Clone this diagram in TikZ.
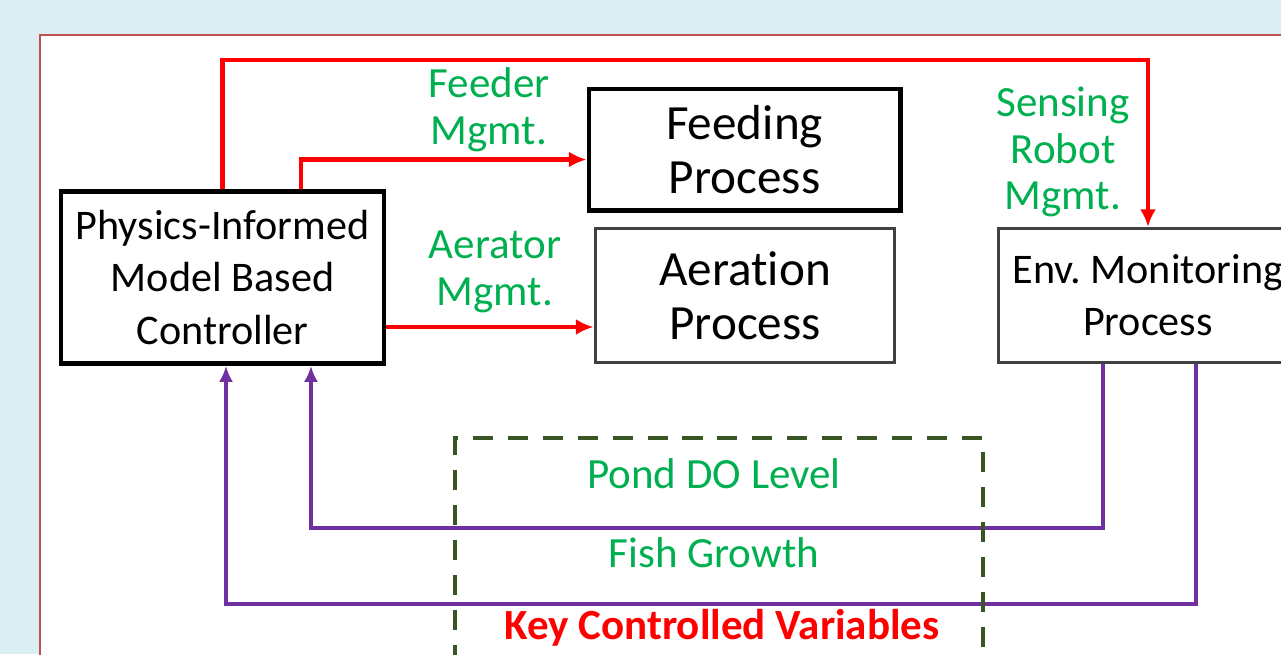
\documentclass[tikz,border=0pt]{standalone}
\usepackage{fontspec}
\setmainfont{Carlito}[Ligatures=NoCommon]
\usetikzlibrary{arrows.meta}
\definecolor{bgblue}{HTML}{DAEEF3}
\definecolor{framered}{HTML}{C0504D}
\definecolor{mgmtgreen}{HTML}{00B050}
\definecolor{fbpurple}{HTML}{7030A0}
\definecolor{keygreen}{HTML}{375623}
\definecolor{boxgray}{HTML}{404040}
\frenchspacing

\tikzset{
  ctrlbox/.style={draw=black, line width=2.8pt, fill=white, align=center,
    font=\fontsize{24}{29.6}\selectfont},
  procbox/.style={draw=black, line width=2.3pt, fill=white, align=center,
    font=\fontsize{28}{31}\selectfont},
  envbox/.style={draw=boxgray, line width=1.7pt, fill=white, align=center,
    font=\fontsize{24}{29.6}\selectfont},
  mgmt/.style={text=mgmtgreen, align=center, font=\fontsize{24.5}{26.5}\selectfont},
  kcv/.style={text=mgmtgreen, font=\fontsize{24.5}{27}\selectfont},
  ctl/.style={draw=red, line width=2.3pt, -{Latex[length=10pt,width=9pt]}},
  fb/.style={draw=fbpurple, line width=2pt, -{Latex[length=9pt,width=8pt]}},
  keybox/.style={draw=keygreen, line width=2.3pt, dash pattern=on 11.4pt off 8.5pt}
}

\begin{document}
\begin{tikzpicture}[x=0.02cm, y=-0.02cm]
\useasboundingbox (0,0) rectangle (1281,654);
\clip (0,0) rectangle (1281,654);
\fill[bgblue] (0,0) rectangle (1281,654);
\draw[framered, line width=0.6pt, fill=white] (40,35) rectangle (1320,700);

\node[ctrlbox, minimum width=6.46cm, minimum height=3.44cm] (ctrl) at (222.5,277.5)
  {Physics-Informed\\Model Based\\Controller};
\node[procbox, minimum width=6.24cm, minimum height=2.44cm] (feed) at (744.5,149.5)
  {Feeding\\Process};
\node[procbox, draw=boxgray, line width=1.7pt, minimum width=6.0cm, minimum height=2.68cm] (aer) at (745,295.5)
  {Aeration\\Process};
\node[envbox, minimum width=6.0cm, minimum height=2.68cm] (env) at (1148,295.5)
  {Env. Monitoring\\Process};

\node[mgmt] (feedlbl) at (489,110) {Feeder\\Mgmt.};
\node[mgmt] (aerlbl) at (495,272) {Aerator\\Mgmt.};
\node[mgmt] (senslbl) at (1063,152) {Sensing\\Robot\\Mgmt.};

\coordinate (top) at (0,60);
\draw[ctl] (ctrl.north) |- (env.north |- top) -- (env.north);
\draw[ctl] ([xshift=1.57cm]ctrl.north) |- ([yshift=-0.2cm]feed.west);
\draw[ctl] ([yshift=-0.99cm]ctrl.east) coordinate (aerout) -- (aerout -| aer.west);

\draw[fb] ([xshift=-0.9cm]env.south) -- ++(0,164) -| ([xshift=1.77cm]ctrl.south);
\draw[fb] ([xshift=0.96cm]env.south) -- ++(0,240) -| ([xshift=0.07cm]ctrl.south);

\draw[keybox] (455,700) |- (983,438) -- (983,700);

\node[kcv] (pond) at (714,474) {Pond DO Level};
\node[kcv] (fish) at (714,553) {Fish Growth};
\node[text=red, font=\fontsize{24.5}{27}\selectfont\bfseries] (keyvars) at (722,628) {Key Controlled Variables};
\end{tikzpicture}
\end{document}
